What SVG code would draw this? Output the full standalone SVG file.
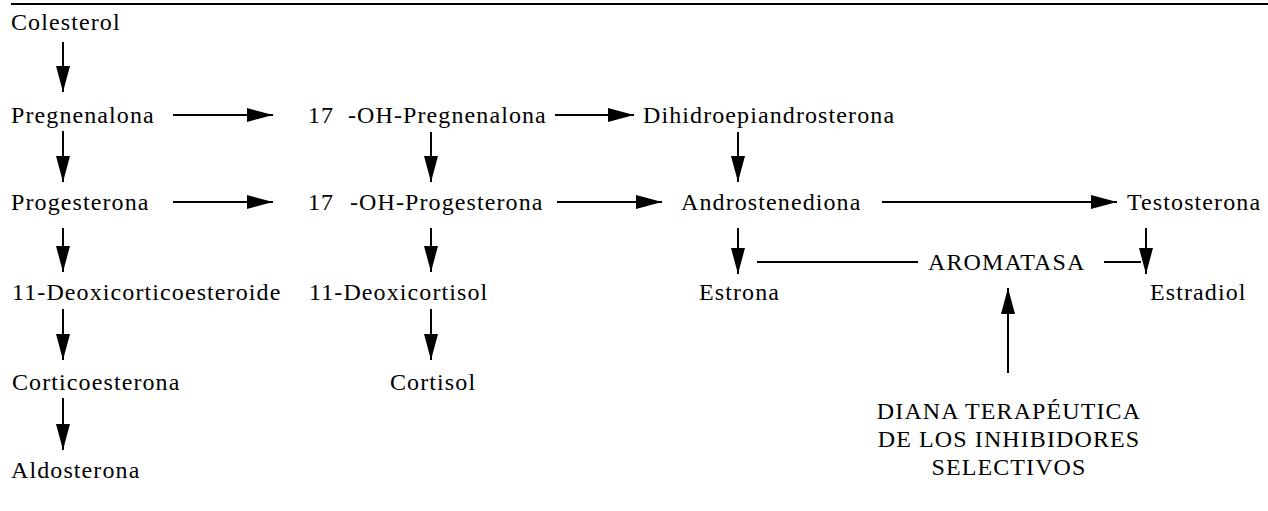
<svg xmlns="http://www.w3.org/2000/svg" width="1268" height="511" viewBox="0 0 1268 511">
<style>
text{font-family:"Liberation Serif","Times New Roman",serif;font-size:24px;letter-spacing:1.1px;fill:#000}
.c{text-anchor:middle}
.l{stroke:#000;stroke-width:2;fill:none}
.a{stroke:#000;stroke-width:2;fill:none;marker-end:url(#ah)}
</style>
<defs>
<marker id="ah" markerUnits="userSpaceOnUse" markerWidth="26" markerHeight="14" refX="26" refY="7" orient="auto" viewBox="0 0 26 14">
<path d="M0,0 L26,7 L0,14 z" fill="#000"/>
</marker>
</defs>
<rect width="1268" height="511" fill="#fff"/>
<line x1="11" y1="4" x2="1268" y2="4" stroke="#000" stroke-width="2"/>
<g id="connectors">
<line class="a" x1="63" y1="42" x2="63" y2="92"/>
<line class="a" x1="63" y1="131" x2="63" y2="182"/>
<line class="a" x1="63" y1="228" x2="63" y2="272"/>
<line class="a" x1="63" y1="309" x2="63" y2="360"/>
<line class="a" x1="63" y1="398" x2="63" y2="450"/>
<line class="a" x1="173" y1="115" x2="273" y2="115"/>
<line class="a" x1="555" y1="115" x2="634" y2="115"/>
<line class="a" x1="431" y1="132" x2="431" y2="182"/>
<line class="a" x1="738" y1="132" x2="738" y2="182"/>
<line class="a" x1="173" y1="202" x2="273" y2="202"/>
<line class="a" x1="557" y1="202" x2="662" y2="202"/>
<line class="a" x1="882" y1="202" x2="1117" y2="202"/>
<line class="a" x1="431" y1="228" x2="431" y2="272"/>
<line class="a" x1="431" y1="309" x2="431" y2="360"/>
<line class="a" x1="738" y1="228" x2="738" y2="274"/>
<line class="a" x1="1146" y1="228" x2="1146" y2="274"/>
<line class="l" x1="757" y1="262" x2="918" y2="262"/>
<line class="l" x1="1104" y1="262" x2="1141" y2="262"/>
<line class="a" x1="1008" y1="373" x2="1008" y2="288"/>
</g>
<g id="n-colesterol"><text x="11" y="30">Colesterol</text></g>
<g id="n-pregnenalona"><text x="11" y="123">Pregnenalona</text></g>
<g id="n-17oh-pregnenalona"><text x="308" y="123">17</text><text x="348" y="123">-OH-Pregnenalona</text></g>
<g id="n-dihidroepiandrosterona"><text x="643" y="123">Dihidroepiandrosterona</text></g>
<g id="n-progesterona"><text x="11" y="210">Progesterona</text></g>
<g id="n-17oh-progesterona"><text x="308" y="210">17</text><text x="350" y="210">-OH-Progesterona</text></g>
<g id="n-androstenediona"><text x="681" y="210">Androstenediona</text></g>
<g id="n-testosterona"><text x="1127" y="210">Testosterona</text></g>
<g id="n-aromatasa"><text x="928" y="270">AROMATASA</text></g>
<g id="n-11-deoxicorticoesteroide"><text x="12" y="300">11-Deoxicorticoesteroide</text></g>
<g id="n-11-deoxicortisol"><text x="309" y="300">11-Deoxicortisol</text></g>
<g id="n-estrona"><text x="699" y="300">Estrona</text></g>
<g id="n-estradiol"><text x="1150" y="300">Estradiol</text></g>
<g id="n-corticoesterona"><text x="12" y="390">Corticoesterona</text></g>
<g id="n-cortisol"><text x="390" y="390">Cortisol</text></g>
<g id="n-aldosterona"><text x="11" y="478">Aldosterona</text></g>
<g id="n-diana"><text class="c" x="1009" y="419">DIANA TERAPÉUTICA</text><text class="c" x="1009" y="447">DE LOS INHIBIDORES</text><text class="c" x="1009" y="475">SELECTIVOS</text></g>
</svg>
